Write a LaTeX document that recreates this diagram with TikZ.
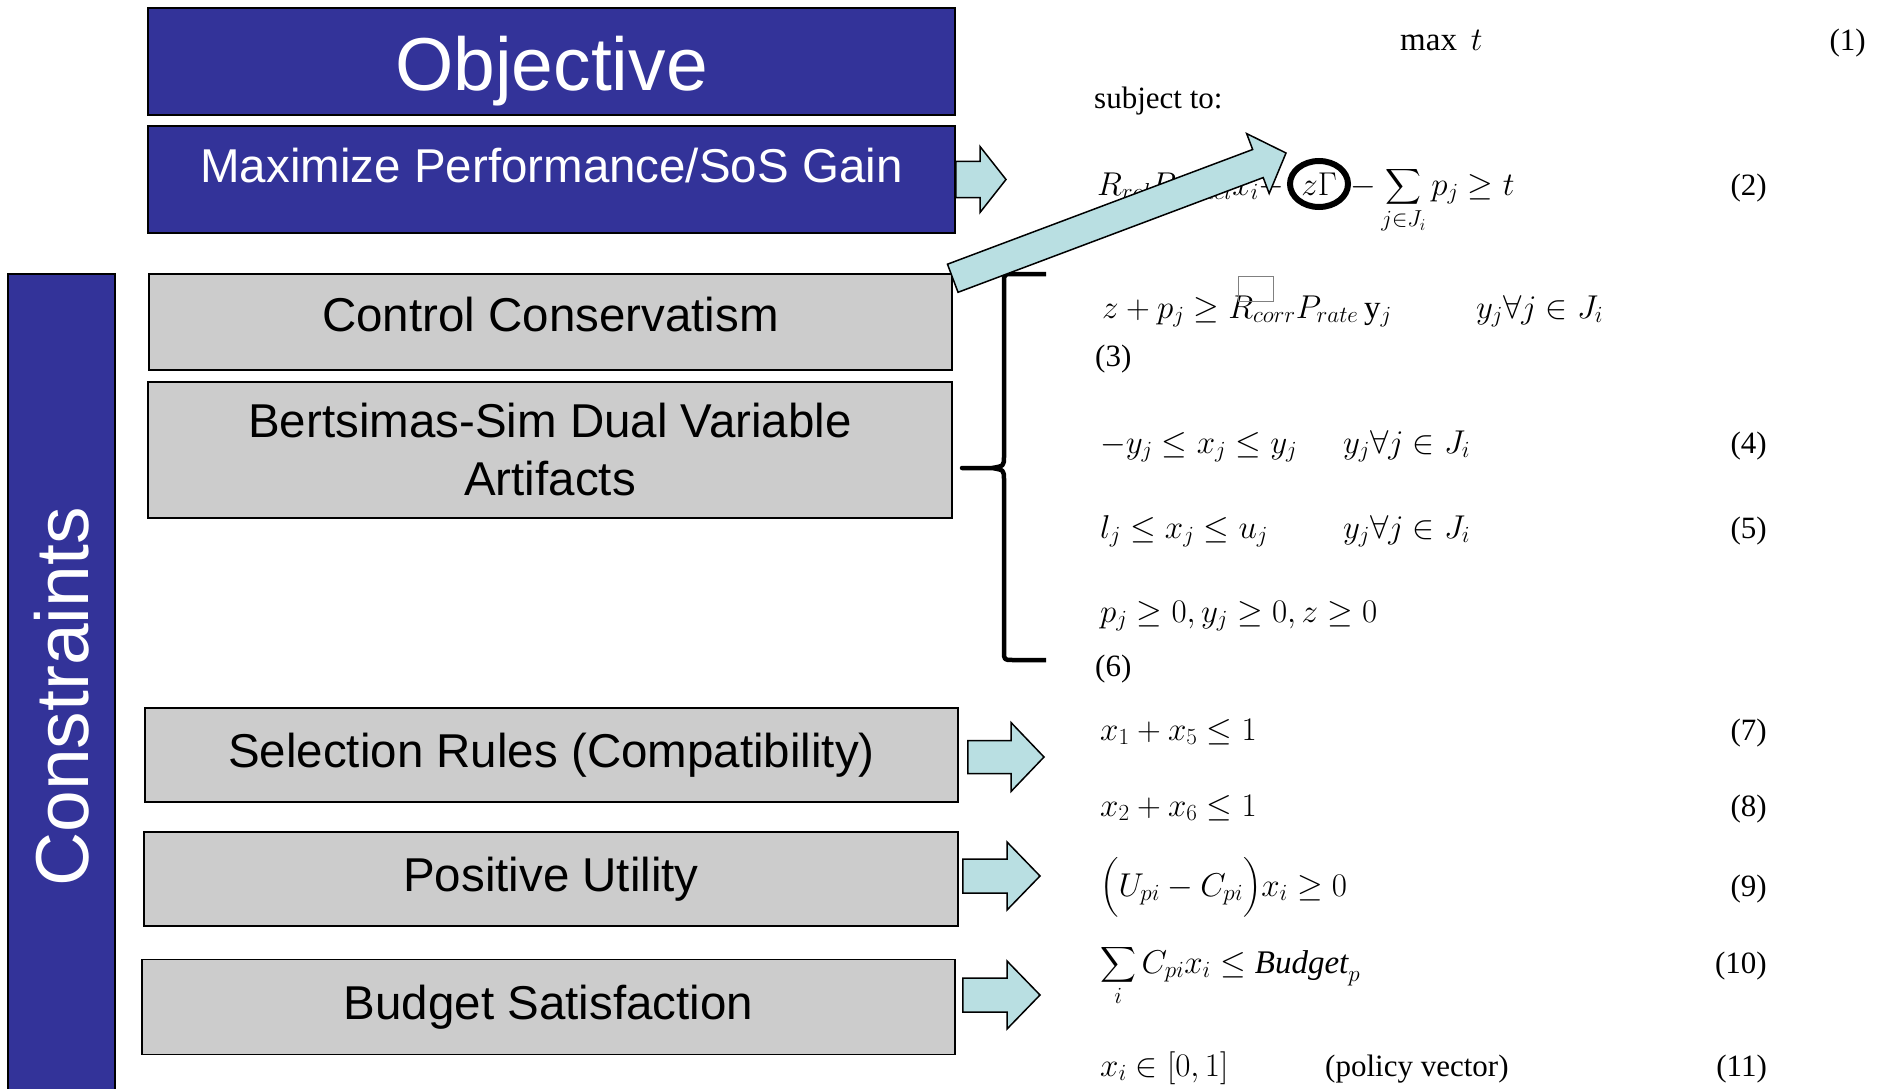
\RequirePackage{fix-cm}
\documentclass[tikz,border=0pt]{standalone}
\usepackage{amsmath}
\usepackage{fontspec}
\setmainfont{Liberation Serif}
\newfontfamily\boxfont{Liberation Sans}
\usepackage{tikz}
\usetikzlibrary{calc,shapes.geometric}
\definecolor{objblue}{RGB}{51,51,153}
\definecolor{boxgray}{RGB}{204,204,204}
\definecolor{arrcyan}{RGB}{185,223,226}
\newcommand{\blockarrow}[6]{%
  \coordinate (#1base) at ($(#3)!#6!(#2)$);
  \draw[blockarr] ($(#2)!#4!90:(#3)$) -- ($(#1base)!#4!-90:(#2)$)
    -- ($(#1base)!#5!-90:(#2)$) -- (#3) -- ($(#1base)!#5!90:(#2)$)
    -- ($(#1base)!#4!90:(#2)$) -- ($(#2)!#4!-90:(#3)$) -- cycle;}

\begin{document}
\begin{tikzpicture}[x=1pt,y=-1pt,
  bluebox/.style={draw=black, line width=1.5pt, fill=objblue, text=white, inner sep=0pt},
  graybox/.style={draw=black, line width=1.5pt, fill=boxgray, inner sep=0pt, align=center, font=\boxfont\fontsize{47.5}{58}\selectfont},
  eqn/.style={anchor=base west, inner sep=0pt, font=\fontsize{33}{40}\selectfont},
  eqtxt/.style={anchor=base west, inner sep=0pt, font=\fontsize{31}{36}\selectfont},
  eqno/.style={anchor=base east, inner sep=0pt, font=\fontsize{31}{36}\selectfont},
  blockarr/.style={draw=black, line width=1.5pt, fill=arrcyan, line join=miter}]
\useasboundingbox (0,0) rectangle (1885,1089);
\node[bluebox, minimum width=807pt, minimum height=107pt, text height=59pt, text depth=0pt, font=\boxfont\fontsize{75}{90}\selectfont] (obj) at (551.5,61.5) {Objective};
\node[bluebox, minimum width=807pt, minimum height=107pt, text height=34pt, text depth=28pt, font=\boxfont\fontsize{47.5}{58}\selectfont] (maxi) at (551.5,179.5) {Maximize Performance/SoS Gain};
\node[bluebox, rotate=90, minimum width=846pt, minimum height=107pt, font=\boxfont\fontsize{75}{90}\selectfont] (cons) at (61.5,697) {Constraints};
\node[graybox, minimum width=803pt, minimum height=96pt, text height=34pt, text depth=16pt] (ctrl) at (550.5,322) {Control Conservatism};
\node[graybox, minimum width=804pt, minimum height=136pt] (bert) at (550,450) {Bertsimas-Sim Dual Variable\\Artifacts};
\node[graybox, minimum width=813pt, minimum height=94pt] (sel) at (551.5,755) {Selection Rules (Compatibility)};
\node[graybox, minimum width=814pt, minimum height=94pt] (posu) at (551,879) {Positive Utility};
\node[graybox, minimum width=813pt, minimum height=95pt] (budg) at (548.5,1007) {Budget Satisfaction};

\node[eqn] (eq1) at (1400,51) {$\max\ t$};
\node[eqno] (n1) at (1866,51) {(1)};
\node[eqtxt] (subj) at (1094,109) {subject to:};
\node[eqn] (eq2a) at (1097,195) {$R_{rel}P_{model}x_i-$};
\node[ellipse, draw, line width=6pt, minimum width=58pt, minimum height=46pt, inner sep=0pt, font=\fontsize{33}{40}\selectfont] (zgam) at (1319,184) {$z\Gamma$};
\node[eqn] (eq2b) at (1350,195) {$-\displaystyle\sum_{j\in J_i} p_j \geq t$};
\node[eqno] (n2) at (1767,195) {(2)};
\node[eqn] (eq3a) at (1102,318) {$z + p_j \geq R_{corr} P_{rate}\,\mathrm{y}_j$};
\node[eqn] (eq3b) at (1476,318) {$y_j \forall j \in J_i$};
\node[draw=gray, line width=1pt, minimum width=35pt, minimum height=25pt, inner sep=0pt] (rbox) at (1256,289) {};
\node[eqtxt] (n3) at (1095,366) {(3)};
\node[eqn] (eq4a) at (1100,453) {$-y_j \leq x_j \leq y_j$};
\node[eqn] (eq4b) at (1343,453) {$y_j \forall j \in J_i$};
\node[eqno] (n4) at (1767,453) {(4)};
\node[eqn] (eq5a) at (1100,538) {$l_j \leq x_j \leq u_j$};
\node[eqn] (eq5b) at (1343,538) {$y_j \forall j \in J_i$};
\node[eqno] (n5) at (1767,538) {(5)};
\node[eqn] (eq6) at (1100,622) {$p_j \geq 0, y_j \geq 0, z \geq 0$};
\node[eqtxt] (n6) at (1095,676) {(6)};
\node[eqn] (eq7) at (1100,740) {$x_1 + x_5 \leq 1$};
\node[eqno] (n7) at (1767,740) {(7)};
\node[eqn] (eq8) at (1100,816) {$x_2 + x_6 \leq 1$};
\node[eqno] (n8) at (1767,816) {(8)};
\node[eqn] (eq9) at (1100,896) {$\Bigl(U_{pi} - C_{pi}\Bigr) x_i \geq 0$};
\node[eqno] (n9) at (1767,896) {(9)};
\node[eqn] (eq10) at (1100,973) {$\displaystyle\sum_i C_{pi} x_i \leq \mathit{Budget}_p$};
\node[eqno] (n10) at (1767,973) {(10)};
\node[eqn] (eq11) at (1100,1076) {$x_i \in [0,1]$};
\node[eqtxt] (pol) at (1325,1076) {(policy vector)};
\node[eqno] (n11) at (1767,1076) {(11)};

\draw[line width=4.5pt, line join=round] (1046,274) -- (1013,274) .. controls (1004,274) .. (1004,283) -- (1004,456)
  .. controls (1004,466) .. (992,468) -- (962,468) -- (992,468) .. controls (1004,470) .. (1004,480)
  -- (1004,651) .. controls (1004,660) .. (1013,660) -- (1046,660);

\coordinate (maxtip) at (1006,179.5);
\coordinate (selfrom) at ($(sel.east)+(9,2)$);
\coordinate (seltip) at (1044,757);
\coordinate (posfrom) at ($(posu.east)+(4,-3)$);
\coordinate (postip) at (1040,876);
\coordinate (budfrom) at ($(budg.east)+(7,-12)$);
\coordinate (budtip) at (1040,995);
\coordinate (ctrlfrom) at ($(ctrl.north east)+(0,5)$);
\coordinate (gamtip) at (1286,153);
\blockarrow{ma}{maxi.east}{maxtip}{18pt}{33pt}{26pt}
\blockarrow{se}{selfrom}{seltip}{16.5pt}{34.5pt}{33pt}
\blockarrow{pu}{posfrom}{postip}{17pt}{34pt}{33pt}
\blockarrow{bu}{budfrom}{budtip}{17pt}{34pt}{33pt}
\blockarrow{cc}{ctrlfrom}{gamtip}{15pt}{32pt}{30pt}
\end{tikzpicture}
\end{document}
